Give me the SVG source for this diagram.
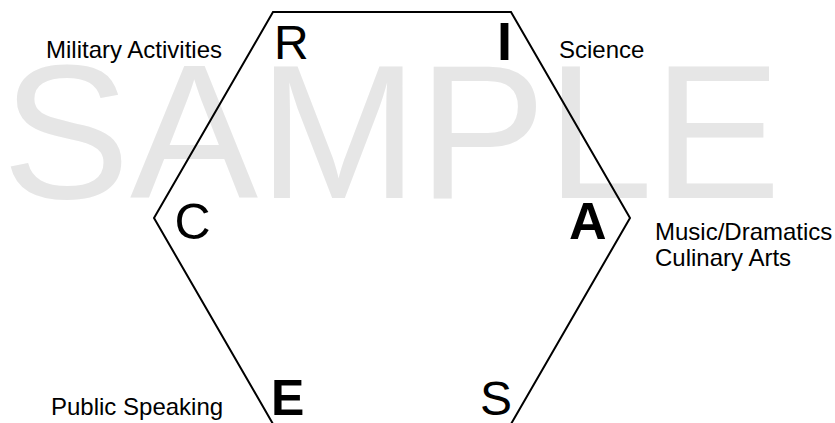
<svg xmlns="http://www.w3.org/2000/svg" width="835" height="423" viewBox="0 0 835 423">
  <style>
    .wm { font-family: "Liberation Sans", Arial, sans-serif; font-size: 192px; fill: #e6e6e6; }
    .lbl { font-family: "Liberation Sans", Arial, sans-serif; font-size: 24px; fill: #000; }
    .ltr { font-family: "Liberation Sans", Arial, sans-serif; fill: #000; }
    .b { font-weight: bold; }
    .hex { fill: none; stroke: #000; stroke-width: 2; stroke-linejoin: miter; }
  </style>
  <rect width="835" height="423" fill="#fff"/>
  <text class="wm" x="2" y="198">SAMPLE</text>
  <g id="connectors">
    <polygon class="hex" points="273,12 511,12 630,218 511,424 273,424 154,218"/>
  </g>
  <g id="node-R">
    <text class="ltr" x="274" y="59" font-size="48">R</text>
    <text class="lbl" x="46" y="58">Military Activities</text>
  </g>
  <g id="node-I">
    <text class="ltr b" x="497" y="60" font-size="54">I</text>
    <text class="lbl" x="559" y="58">Science</text>
  </g>
  <g id="node-A">
    <text class="ltr b" x="569" y="239" font-size="52">A</text>
    <text class="lbl" x="655" y="240">Music/Dramatics</text>
    <text class="lbl" x="655" y="266">Culinary Arts</text>
  </g>
  <g id="node-C">
    <text class="ltr" x="174.5" y="239" font-size="50">C</text>
  </g>
  <g id="node-E">
    <text class="ltr b" x="271" y="415" font-size="50">E</text>
    <text class="lbl" x="51" y="415">Public Speaking</text>
  </g>
  <g id="node-S">
    <text class="ltr" x="480" y="415" font-size="48">S</text>
  </g>
</svg>
